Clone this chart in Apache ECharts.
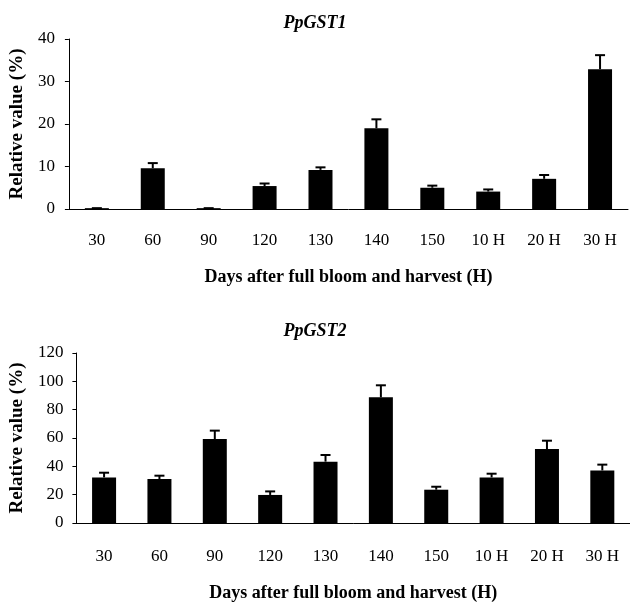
<!DOCTYPE html>
<html>
<head>
<meta charset="utf-8">
<script src="https://cdn.jsdelivr.net/npm/echarts@6/dist/echarts.min.js"></script>
<style>html,body{margin:0;padding:0;background:#fff;}#c{width:630px;height:607px;}</style>
</head>
<body>
<div id="c"></div>
<script>
const categories = ['30','60','90','120','130','140','150','10 H','20 H','30 H'];
const gst1Values = [0.2, 9.6, 0.2, 5.4, 9.2, 19.0, 5.0, 4.1, 7.1, 32.9];
const gst1Errors = [0, 1.2, 0, 0.6, 0.6, 2.1, 0.5, 0.5, 0.9, 3.3];
const gst2Values = [32.2, 31.0, 59.3, 19.8, 43.3, 88.7, 23.5, 32.2, 52.2, 37.1];
const gst2Errors = [3.3, 2.4, 5.9, 2.5, 4.7, 8.5, 2.1, 2.6, 5.9, 4.1];
const gst1Ticks = [0, 10, 20, 30, 40];
const gst2Ticks = [0, 20, 40, 60, 80, 100, 120];

const FONT = 'Liberation Serif';

function errItem(params, api) {
  const x = api.value(0), v = api.value(1), e = api.value(2);
  const base = api.coord([x, v]);
  const top = api.coord([x, v + e]);
  const style = { stroke: '#000', lineWidth: 2 };
  return { type: 'group', children: [
    { type: 'line', shape: { x1: base[0], y1: base[1], x2: top[0], y2: top[1] }, style },
    { type: 'line', shape: { x1: top[0] - 5, y1: top[1], x2: top[0] + 5, y2: top[1] }, style }
  ]};
}

function xAxis(idx, nameGap, labelMargin) {
  return {
    type: 'category', gridIndex: idx, data: categories,
    axisLine: { lineStyle: { color: '#000', width: 1 } },
    axisTick: { inside: true, length: 7, alignWithLabel: false, lineStyle: { color: '#000' } },
    axisLabel: { color: '#000', fontFamily: FONT, fontSize: 17, margin: labelMargin },
    name: 'Days after full bloom and harvest (H)', nameLocation: 'middle', nameGap: nameGap,
    nameTextStyle: { color: '#000', fontFamily: FONT, fontSize: 18, fontWeight: 'bold' }
  };
}
function yAxis(idx, ticks, nameGap, labelMargin) {
  return {
    type: 'value', gridIndex: idx, min: ticks[0], max: ticks[ticks.length - 1],
    interval: ticks[1] - ticks[0],
    splitLine: { show: false },
    axisLine: { show: true, lineStyle: { color: '#000', width: 1 } },
    axisTick: { show: true, length: 4, lineStyle: { color: '#000' } },
    axisLabel: { color: '#000', fontFamily: FONT, fontSize: 17, margin: labelMargin },
    name: 'Relative value (%)', nameLocation: 'middle', nameGap: nameGap,
    nameTextStyle: { color: '#000', fontFamily: FONT, fontSize: 19, fontWeight: 'bold' }
  };
}

const chart = echarts.init(document.getElementById('c'), null, { renderer: 'canvas' });
chart.setOption({
  animation: false,
  backgroundColor: '#fff',
  title: [
    { text: 'PpGST1', left: 'center', top: 9, textStyle: { fontFamily: FONT, fontSize: 18, fontWeight: 'bold', fontStyle: 'italic', color: '#000' } },
    { text: 'PpGST2', left: 'center', top: 317, textStyle: { fontFamily: FONT, fontSize: 18, fontWeight: 'bold', fontStyle: 'italic', color: '#000' } }
  ],
  grid: [
    { left: 68, right: 2, top: 39, height: 170 },
    { left: 75, right: 0, top: 353, height: 170 }
  ],
  xAxis: [xAxis(0, 59, 23), xAxis(1, 61, 25)],
  yAxis: [yAxis(0, gst1Ticks, 39, 14), yAxis(1, gst2Ticks, 49, 13)],
  series: [
    { type: 'bar', xAxisIndex: 0, yAxisIndex: 0, data: gst1Values, barWidth: 24, itemStyle: { color: '#000' } },
    { type: 'custom', xAxisIndex: 0, yAxisIndex: 0, renderItem: errItem,
      data: gst1Values.map((v, i) => [i, v, gst1Errors[i]]), z: 3 },
    { type: 'bar', xAxisIndex: 1, yAxisIndex: 1, data: gst2Values, barWidth: 24, itemStyle: { color: '#000' } },
    { type: 'custom', xAxisIndex: 1, yAxisIndex: 1, renderItem: errItem,
      data: gst2Values.map((v, i) => [i, v, gst2Errors[i]]), z: 3 }
  ]
});
</script>
</body>
</html>
